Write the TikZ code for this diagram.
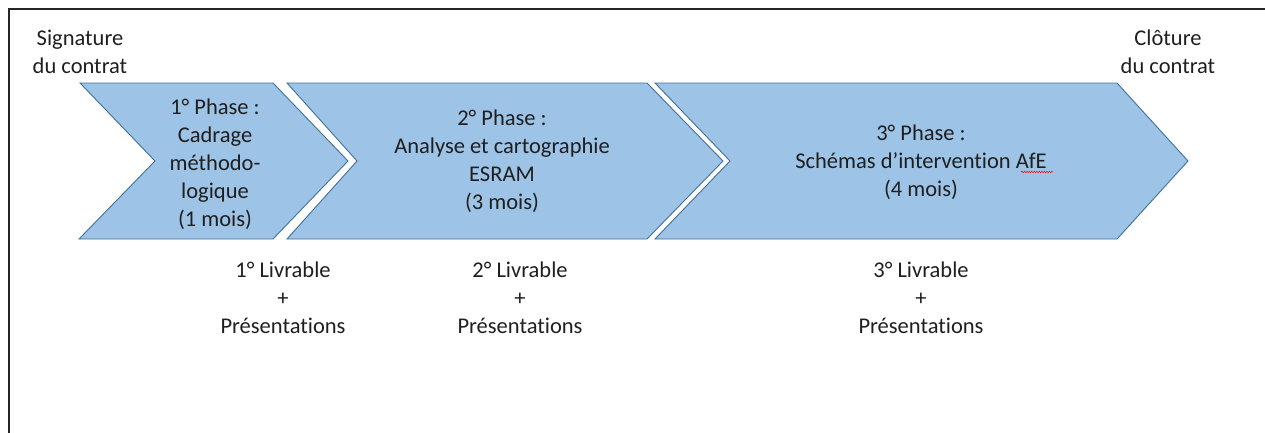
\documentclass[tikz,border=0pt]{standalone}
\usepackage{fontspec}
\setmainfont{Carlito}[Ligatures={NoCommon}]
\usetikzlibrary{decorations.pathmorphing}
\definecolor{chevfill}{HTML}{9DC3E6}
\definecolor{chevline}{HTML}{41719C}
\definecolor{txt}{HTML}{1F1F1F}
\tikzset{
  chev/.style={fill=chevfill, draw=chevline, line width=0.9pt, line join=miter},
  lbl/.style={align=center, text=txt, font=\fontsize{22.5}{28}\selectfont, inner sep=0pt},
  frameline/.style={draw=black!85, line width=2pt},
}
\begin{document}
\begin{tikzpicture}[x=1pt,y=-1pt]
\useasboundingbox (0,0) rectangle (1265,432);
% frame
\draw[frameline] (9,433) -- (9,9) -- (1266,9);
% chevrons
\draw[chev] (80,83) -- (273,83) -- (348,161) -- (273,239) -- (79,239) -- (155,161) -- cycle;
\draw[chev] (287,83) -- (647,83) -- (723,161) -- (647,239) -- (287,239) -- (357,161) -- cycle;
\draw[chev] (655,83) -- (1117,83) -- (1188,161) -- (1117,239) -- (655,239) -- (730,161) -- cycle;
% texts
\node[lbl] (sig) at (80,52) {Signature\\du contrat};
\node[lbl] (clo) at (1168,52) {Clôture\\du contrat};
\node[lbl] (p1) at (215,164) {1° Phase :\\Cadrage\\méthodo-\\logique\\(1 mois)};
\node[lbl] (p2) at (502,161) {2° Phase :\\Analyse et cartographie\\ESRAM\\(3 mois)};
\node[lbl] (p3) at (921,162) {3° Phase :\\Schémas d’intervention AfE\\(4 mois)};
\node[lbl] (l1) at (283,298) {1° Livrable\\+\\Présentations};
\node[lbl] (l2) at (520,298) {2° Livrable\\+\\Présentations};
\node[lbl] (l3) at (921,298) {3° Livrable\\+\\Présentations};
% spell-check squiggle under AfE
\coordinate (sqa) at (1021,172);
\coordinate (sqb) at (1053,172);
\draw[red, line width=0.5pt, decorate, decoration={snake, amplitude=0.7pt, segment length=2.5pt}] (sqa) -- (sqb);
\end{tikzpicture}
\end{document}
